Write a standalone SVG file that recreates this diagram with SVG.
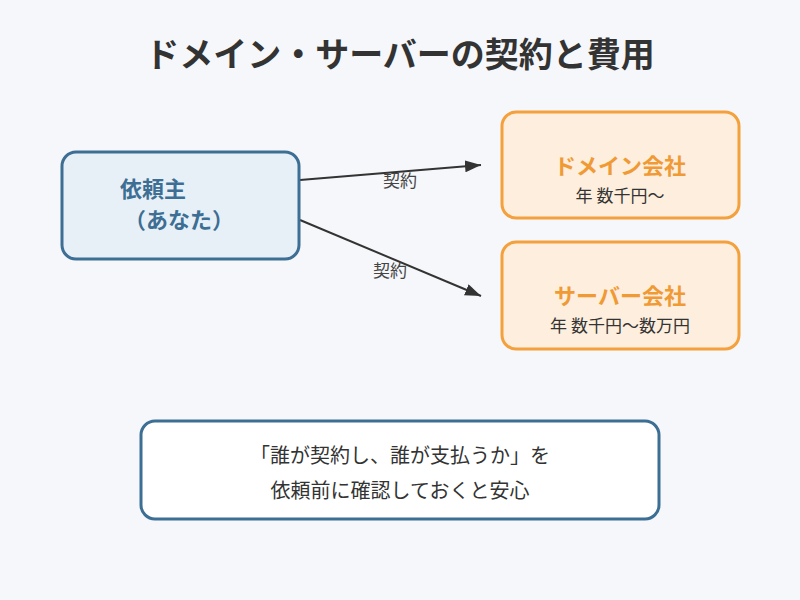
<svg xmlns="http://www.w3.org/2000/svg" width="800" height="600" viewBox="0 0 800 600">
<style>
text{font-family:"Noto Sans CJK JP","Noto Sans",sans-serif}
.title{font-size:34px;font-weight:bold;fill:#333;text-anchor:middle}
.blue{fill:#e8f0f7;stroke:#3d6e94;stroke-width:3}
.orange{fill:#fdeedd;stroke:#f4a03c;stroke-width:3}
.note{fill:#ffffff;stroke:#3d6e94;stroke-width:3}
.btxt{font-size:22px;font-weight:bold;fill:#3d6e94}
.otxt{font-size:22px;font-weight:bold;fill:#f09a35;text-anchor:middle}
.sub{font-size:17px;fill:#333;text-anchor:middle}
.lbl{font-size:17px;fill:#444;text-anchor:middle}
.ntxt{font-size:20px;fill:#333;text-anchor:middle}
.edge{stroke:#333;stroke-width:2;fill:none;marker-end:url(#arr)}
</style>
<defs>
<marker id="arr" markerUnits="userSpaceOnUse" markerWidth="16" markerHeight="12" refX="16" refY="6" orient="auto">
<path d="M0,0 L16,6 L0,12 z" fill="#333"/>
</marker>
</defs>
<rect width="800" height="600" fill="#f5f7fa"/>
<text class="title" x="400" y="67">ドメイン・サーバーの契約と費用</text>
<g id="connectors">
<line class="edge" x1="300" y1="180" x2="481" y2="165"/>
<line class="edge" x1="300" y1="220" x2="481" y2="296"/>
<text class="lbl" x="400" y="187">契約</text>
<text class="lbl" x="390" y="277">契約</text>
</g>
<g id="client">
<rect class="blue" x="62" y="152" width="237" height="107" rx="14"/>
<text class="btxt" x="120" y="197">依頼主</text>
<text class="btxt" x="124" y="228">（あなた）</text>
</g>
<g id="domain">
<rect class="orange" x="502" y="112" width="237" height="106" rx="14"/>
<text class="otxt" x="620" y="174">ドメイン会社</text>
<text class="sub" x="620" y="202">年 数千円〜</text>
</g>
<g id="server">
<rect class="orange" x="502" y="242" width="237" height="107" rx="14"/>
<text class="otxt" x="620" y="304">サーバー会社</text>
<text class="sub" x="620" y="332">年 数千円〜数万円</text>
</g>
<g id="note">
<rect class="note" x="141" y="421" width="518" height="98" rx="14"/>
<text class="ntxt" x="400" y="463">「誰が契約し、誰が支払うか」を</text>
<text class="ntxt" x="400" y="498">依頼前に確認しておくと安心</text>
</g>
</svg>
